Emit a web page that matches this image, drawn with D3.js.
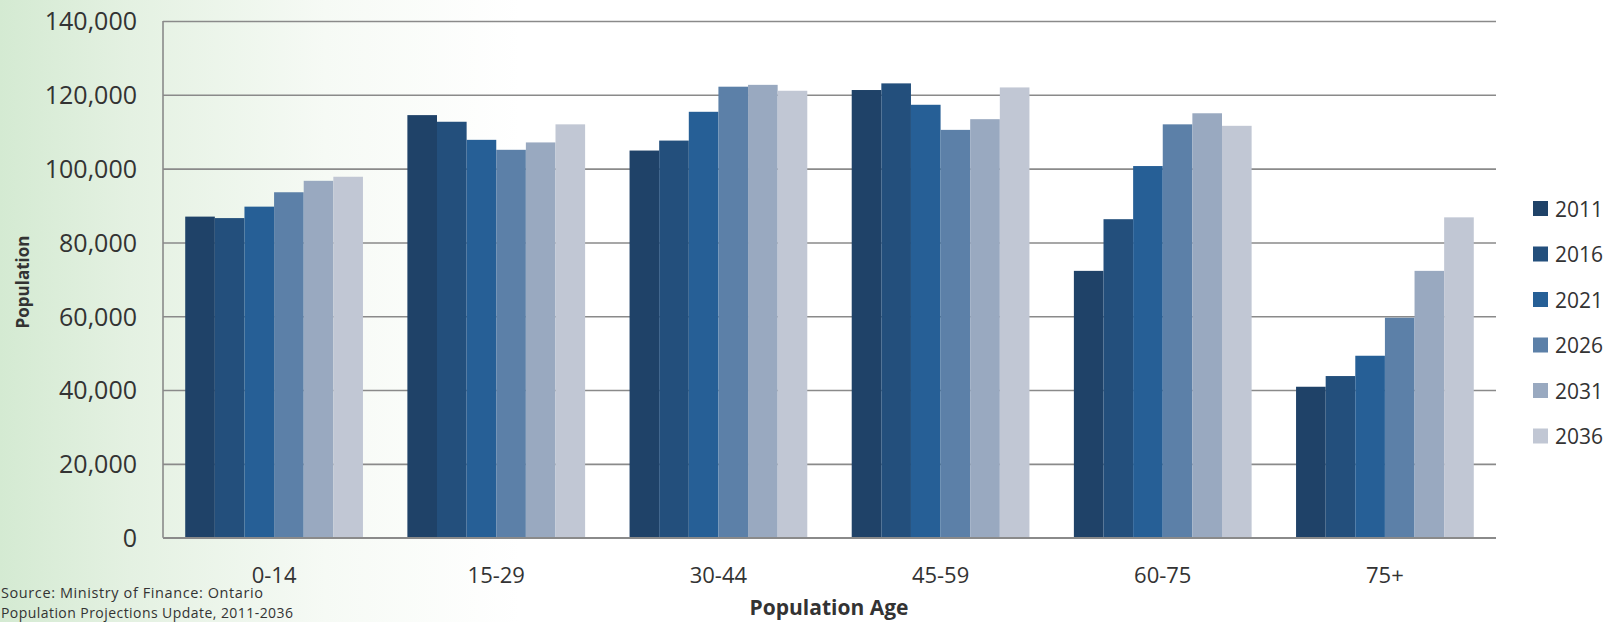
<!DOCTYPE html>
<html>
<head>
<meta charset="utf-8">
<script src="https://cdn.jsdelivr.net/npm/d3@7/dist/d3.min.js"></script>
<style>
  html, body { margin: 0; padding: 0; background: #fff; }
  svg { display: block; }
  text { font-family: "Open Sans", "Noto Sans", sans-serif; fill: #333; }
</style>
</head>
<body>
<svg id="chart" width="1624" height="622"></svg>
<script>
const categories = ["0-14", "15-29", "30-44", "45-59", "60-75", "75+"];
const years = ["2011", "2016", "2021", "2026", "2031", "2036"];
const v2011 = [87000, 114500, 104900, 121300, 72300, 40900];
const v2016 = [86600, 112700, 107600, 123100, 86300, 43800];
const v2021 = [89700, 107800, 115400, 117300, 100700, 49300];
const v2026 = [93600, 105100, 122200, 110500, 112000, 59600];
const v2031 = [96700, 107100, 122700, 113400, 115000, 72300];
const v2036 = [97800, 112000, 121100, 122000, 111600, 86800];
const seriesValues = [v2011, v2016, v2021, v2026, v2031, v2036];
const yTicks = [0, 20000, 40000, 60000, 80000, 100000, 120000, 140000];
const colors = ["#1f4268", "#234f7c", "#265f96", "#5c80a8", "#99a9c0", "#c1c7d4"];

const svg = d3.select("#chart");
const W = 1624, H = 622;
const plot = { left: 163, right: 1496, top: 21, bottom: 537.7 };

// background gradient (green on the left)
const defs = svg.append("defs");
const grad = defs.append("linearGradient").attr("id", "bg").attr("x1", "0").attr("x2", "1").attr("y1", "0").attr("y2", "0");
grad.append("stop").attr("offset", "0").attr("stop-color", "#d4ead2");
grad.append("stop").attr("offset", "0.08").attr("stop-color", "#e4f1e2");
grad.append("stop").attr("offset", "0.2").attr("stop-color", "#f6faf5");
grad.append("stop").attr("offset", "0.32").attr("stop-color", "#ffffff");
svg.append("rect").attr("width", W).attr("height", H).attr("fill", "url(#bg)");

const x0 = d3.scaleBand().domain(categories).range([plot.left, plot.right]).paddingInner(0.2).paddingOuter(0.1);
const x1 = d3.scaleBand().domain(years).range([0, x0.bandwidth()]).padding(0);
const y = d3.scaleLinear().domain([0, 140000]).range([plot.bottom, plot.top]);

// gridlines
const grid = svg.append("g").attr("transform", `translate(${plot.left},0)`)
  .call(d3.axisLeft(y).tickValues(yTicks).tickSize(-(plot.right - plot.left)).tickFormat(""));
grid.select(".domain").remove();
grid.selectAll("line").attr("stroke", "#8a8a8a").attr("stroke-width", 1.6);

// left axis line
svg.append("line").attr("x1", plot.left).attr("x2", plot.left).attr("y1", y(140000)).attr("y2", y(0))
  .attr("stroke", "#8a8a8a").attr("stroke-width", 1.6);

// bars
const rows = categories.map((c, i) => ({ cat: c, vals: years.map((yr, j) => ({ yr, j, v: seriesValues[j][i] })) }));
const groups = svg.append("g").selectAll("g").data(rows).join("g")
  .attr("transform", d => `translate(${x0(d.cat)},0)`);
groups.selectAll("rect").data(d => d.vals).join("rect")
  .attr("x", d => x1(d.yr))
  .attr("width", x1.bandwidth())
  .attr("y", d => y(d.v))
  .attr("height", d => y(0) - y(d.v))
  .attr("fill", d => colors[d.j]);

// baseline over bars
svg.append("line").attr("x1", plot.left).attr("x2", plot.right).attr("y1", y(0)).attr("y2", y(0))
  .attr("stroke", "#8a8a8a").attr("stroke-width", 1.6);

// y tick labels
const yAxis = svg.append("g").attr("transform", `translate(137,0)`)
  .call(d3.axisLeft(y).tickValues(yTicks).tickSize(0).tickPadding(0).tickFormat(d3.format(",")));
yAxis.select(".domain").remove();
yAxis.selectAll("text").attr("font-size", 25).attr("font-family", "Open Sans").attr("fill", "#333").attr("text-anchor", "end").attr("dy", "0.35em");

// x tick labels
const xAxis = svg.append("g").attr("transform", `translate(0,${plot.bottom})`)
  .call(d3.axisBottom(x0).tickSize(0).tickPadding(0));
xAxis.select(".domain").remove();
xAxis.selectAll("text").attr("font-size", 22).attr("font-family", "Open Sans").attr("fill", "#333").attr("dy", "0").attr("y", 45);

// axis titles
svg.append("text").attr("x", 829).attr("y", 615).attr("text-anchor", "middle")
  .attr("font-size", 21).attr("font-weight", "bold").text("Population Age");
svg.append("text").attr("transform", "translate(29,282) rotate(-90)").attr("text-anchor", "middle")
  .attr("font-size", 17).attr("font-weight", "bold").text("Population");

// source
svg.append("text").attr("x", 1).attr("y", 598).attr("font-size", 14.5).attr("textLength", 262).text("Source: Ministry of Finance: Ontario");
svg.append("text").attr("x", 1).attr("y", 618).attr("font-size", 14).attr("textLength", 292).text("Population Projections Update, 2011-2036");

// legend
const legend = svg.append("g").selectAll("g").data(years).join("g")
  .attr("transform", (d, i) => `translate(1533,${209 + i * 45.5})`);
legend.append("rect").attr("x", 0).attr("y", -8).attr("width", 15).attr("height", 15).attr("fill", (d, i) => colors[i]);
legend.append("text").attr("x", 22).attr("y", 0).attr("dy", "0.36em").attr("font-size", 21).text(d => d);
</script>
</body>
</html>
